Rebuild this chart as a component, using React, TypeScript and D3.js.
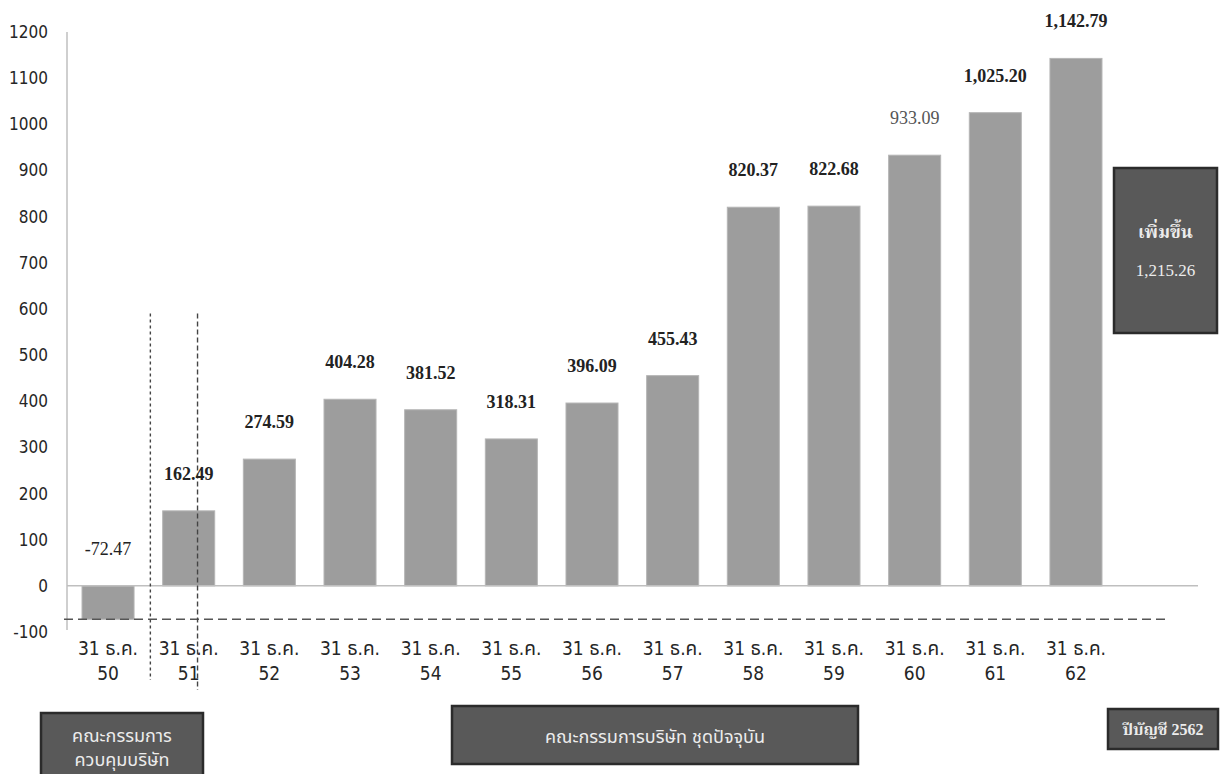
import React from "react";
import * as d3 from "d3";

const categories = ["50", "51", "52", "53", "54", "55", "56", "57", "58", "59", "60", "61", "62"];
const catPrefix = "31 ธ.ค.";
const values = [-72.47, 162.49, 274.59, 404.28, 381.52, 318.31, 396.09, 455.43, 820.37, 822.68, 933.09, 1025.2, 1142.79];
const valueLabels = ["-72.47", "162.49", "274.59", "404.28", "381.52", "318.31", "396.09", "455.43", "820.37", "822.68", "933.09", "1,025.20", "1,142.79"];
const boldLabel = [false, true, true, true, true, true, true, true, true, true, false, true, true];
const yTicks = [-100, 0, 100, 200, 300, 400, 500, 600, 700, 800, 900, 1000, 1100, 1200];
const increaseTitle = "เพิ่มขึ้น";
const increaseValue = "1,215.26";
const boxLeftLines = ["คณะกรรมการ", "ควบคุมบริษัท"];
const boxMiddle = "คณะกรรมการบริษัท ชุดปัจจุบัน";
const boxRight = "ปีบัญชี 2562";

const W = 1232;
const H = 774;
const sans = "Tahoma, 'DejaVu Sans Condensed', 'Noto Sans Thai', 'Noto Sans', sans-serif";
const serif = "'Times New Roman', 'Liberation Serif', 'Noto Serif Thai', serif";

export default function App() {
  const y = d3.scaleLinear().domain([-100, 1200]).range([632, 32]);
  const x = d3.scaleBand<string>().domain(categories).range([67.7, 1116.3]).paddingInner(0.355).paddingOuter(0.1775);
  const bw = x.bandwidth();
  const step = x.step();
  const cx = (c: string) => (x(c) as number) + bw / 2;
  const minVal = d3.min(values) as number;
  const boxFill = "#595959";
  const boxStroke = "#2b2b2b";
  const boxText = "#ececec";

  return (
    <svg width={W} height={H} style={{ position: "absolute", left: 0, top: 0, background: "#fff" }}>
      {/* y axis */}
      <line x1={67} x2={67} y1={y(1200)} y2={y(-100) - 2} stroke="#bfbfbf" strokeWidth={1.5} />
      {yTicks.map((t) => (
        <text key={t} x={48} y={y(t)} textAnchor="end" dominantBaseline="central" fontFamily={sans} fontSize={17} fill="#262626">
          {t}
        </text>
      ))}
      {/* bars */}
      {values.map((v, i) => (
        <rect
          key={categories[i]}
          x={x(categories[i])}
          y={y(Math.max(0, v))}
          width={bw}
          height={Math.abs(y(v) - y(0))}
          fill="#9d9d9d"
          stroke="#b5b5b5"
          strokeWidth={1}
        />
      ))}
      {/* zero line */}
      <line x1={67} x2={1198} y1={y(0)} y2={y(0)} stroke="#bfbfbf" strokeWidth={1.5} />
      {/* dashed min line */}
      <line x1={64} x2={1165} y1={y(minVal)} y2={y(minVal)} stroke="#555" strokeWidth={1.5} strokeDasharray="9,5" />
      {/* vertical dashed separators */}
      <line x1={cx("51") - step / 2 + 2} x2={cx("51") - step / 2 + 2} y1={y(590)} y2={680} stroke="#444" strokeWidth={1.4} strokeDasharray="3,3" />
      <line x1={cx("51") + bw * 0.17} x2={cx("51") + bw * 0.17} y1={y(590)} y2={690} stroke="#444" strokeWidth={1.4} strokeDasharray="5,3" />
      {/* value labels */}
      {values.map((v, i) => (
        <text
          key={"l" + i}
          x={cx(categories[i])}
          y={y(Math.max(0, v)) - 37}
          textAnchor="middle"
          dominantBaseline="central"
          fontFamily={serif}
          fontSize={18}
          fontWeight={boldLabel[i] ? "bold" : "normal"}
          fill={i === 10 ? "#555" : "#222"}
        >
          {valueLabels[i]}
        </text>
      ))}
      {/* category labels */}
      {categories.map((c) => (
        <text key={"c" + c} x={cx(c)} textAnchor="middle" fontFamily={sans} fontSize={19} fill="#262626">
          <tspan x={cx(c)} y={655}>{catPrefix}</tspan>
          <tspan x={cx(c)} y={680}>{c}</tspan>
        </text>
      ))}
      {/* right increase box */}
      <rect x={1114} y={168} width={103} height={165} fill={boxFill} stroke={boxStroke} strokeWidth={2.5} />
      <text x={1165.5} y={232} textAnchor="middle" dominantBaseline="central" fontFamily={serif} fontSize={18} fontWeight="bold" fill={boxText}>
        {increaseTitle}
      </text>
      <text x={1165.5} y={270} textAnchor="middle" dominantBaseline="central" fontFamily={serif} fontSize={17} fill={boxText}>
        {increaseValue}
      </text>
      {/* bottom boxes */}
      <rect x={41} y={713} width={162} height={80} fill={boxFill} stroke={boxStroke} strokeWidth={2.5} />
      <text textAnchor="middle" fontFamily={sans} fontSize={18} fill={boxText}>
        <tspan x={122} y={742}>{boxLeftLines[0]}</tspan>
        <tspan x={122} y={766}>{boxLeftLines[1]}</tspan>
      </text>
      <rect x={452} y={706} width={406} height={58} fill={boxFill} stroke={boxStroke} strokeWidth={2.5} />
      <text x={655} y={736} textAnchor="middle" dominantBaseline="central" fontFamily={sans} fontSize={18} fill={boxText}>
        {boxMiddle}
      </text>
      <rect x={1108} y={709} width={110} height={40} fill={boxFill} stroke={boxStroke} strokeWidth={2.5} />
      <text x={1163} y={729} textAnchor="middle" dominantBaseline="central" fontFamily={serif} fontSize={16} fontWeight="bold" fill={boxText}>
        {boxRight}
      </text>
    </svg>
  );
}
